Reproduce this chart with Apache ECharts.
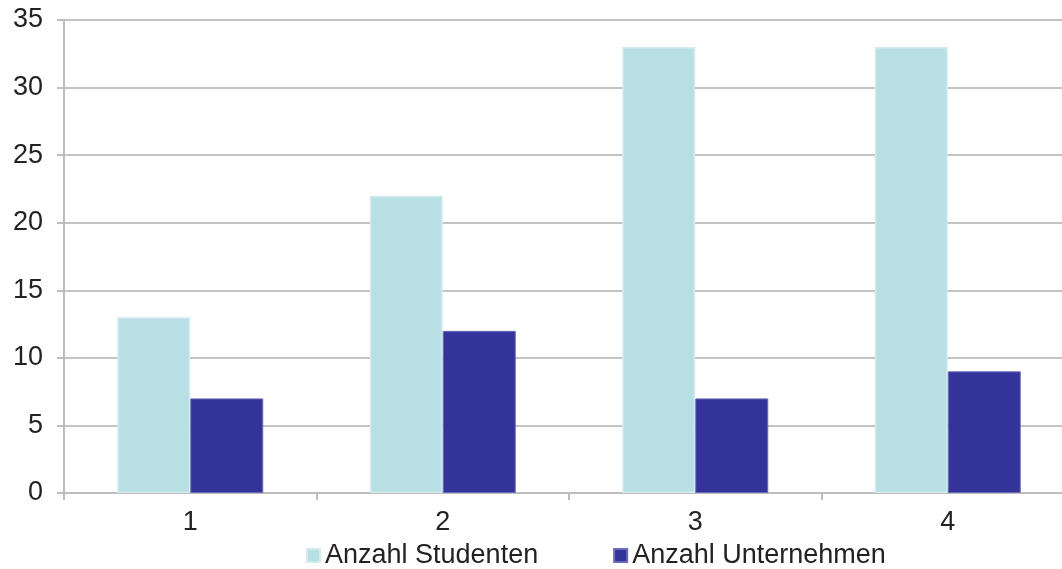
<!DOCTYPE html>
<html>
<head>
<meta charset="utf-8">
<script src="https://cdn.jsdelivr.net/npm/echarts@6/dist/echarts.min.js"></script>
<style>
  html, body { margin: 0; padding: 0; background: #fff; overflow: hidden; }
  /* the source chart is cut off at the right edge, so the canvas is a bit wider than the window */
  #chart { width: 1074px; height: 569px; }
</style>
</head>
<body>
<div id="chart"></div>
<script>
const categories = ['1', '2', '3', '4'];
const studenten = [13, 22, 33, 33];
const unternehmen = [7, 12, 7, 9];

const chart = echarts.init(document.getElementById('chart'));

const labelFont = { fontFamily: 'Liberation Sans, Arial', fontSize: 27, color: '#222' };

chart.setOption({
  animation: false,
  grid: { left: 64, top: 20, right: 0, bottom: 76 },
  legend: {
    top: 537,
    left: 301,
    itemWidth: 13,
    itemHeight: 13,
    itemGap: 75,
    icon: 'rect',
    textStyle: { fontFamily: 'Liberation Sans, Arial', fontSize: 27, color: '#222' },
    data: ['Anzahl Studenten', 'Anzahl Unternehmen']
  },
  xAxis: {
    type: 'category',
    data: categories,
    axisLine: { lineStyle: { color: '#bdbdbd', width: 2 } },
    axisTick: { show: true, length: 7, lineStyle: { color: '#bdbdbd', width: 2 } },
    axisLabel: Object.assign({ margin: 16 }, labelFont)
  },
  yAxis: {
    type: 'value',
    min: 0,
    max: 35,
    interval: 5,
    axisLine: { show: true, lineStyle: { color: '#bdbdbd', width: 2 } },
    axisTick: { show: true, length: 7, lineStyle: { color: '#bdbdbd', width: 2 } },
    splitLine: { lineStyle: { color: '#c4c4c4', width: 2 } },
    axisLabel: Object.assign({ margin: 21 }, labelFont)
  },
  series: [
    {
      name: 'Anzahl Studenten',
      type: 'bar',
      data: studenten,
      barWidth: 73,
      barGap: 0,
      itemStyle: { color: '#b8dfe3', borderColor: '#d4ecef', borderWidth: 1.5 }
    },
    {
      name: 'Anzahl Unternehmen',
      type: 'bar',
      data: unternehmen,
      barWidth: 73,
      barGap: 0,
      itemStyle: { color: '#333399', borderColor: '#6b6bb8', borderWidth: 1 }
    }
  ]
});
</script>
</body>
</html>
